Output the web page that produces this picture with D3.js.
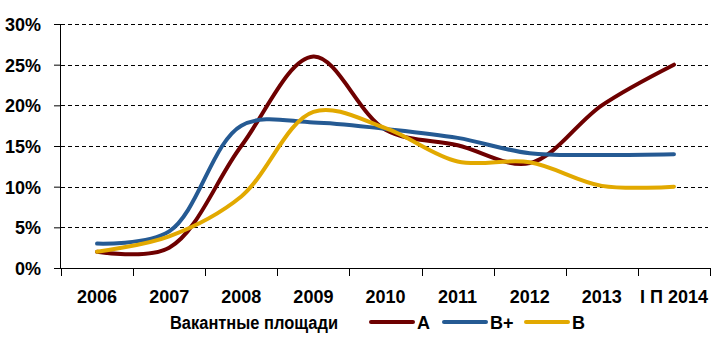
<!DOCTYPE html>
<html>
<head>
<meta charset="utf-8">
<script src="https://cdn.jsdelivr.net/npm/d3@7"></script>
<style>
  html, body { margin: 0; padding: 0; background: #fff; }
  svg text { font-family: "Liberation Sans", Arial, sans-serif; font-weight: bold; fill: #000; }
</style>
</head>
<body>
<svg id="chart" width="718" height="346"></svg>
<script>
// Vacancy rate by office class, 2006 – H1 2014
const categories = ["2006", "2007", "2008", "2009", "2010", "2011", "2012", "2013", "I П 2014"];
const classA     = [0.020, 0.025, 0.150, 0.260, 0.170, 0.151, 0.129, 0.200, 0.250];
const classBPlus = [0.030, 0.045, 0.175, 0.179, 0.171, 0.160, 0.141, 0.139, 0.140];
const classB     = [0.020, 0.039, 0.088, 0.192, 0.172, 0.131, 0.130, 0.101, 0.100];
const yTicks     = [0, 0.05, 0.10, 0.15, 0.20, 0.25, 0.30];
const legendTitle = "Вакантные площади";
const seriesNames = ["А", "В+", "В"];
const seriesColors = ["#6e0000", "#255a93", "#e2a900"];

const series = [classA, classBPlus, classB].map((values, i) => ({
  name: seriesNames[i], color: seriesColors[i], values
}));

const svg = d3.select("#chart");
const plotLeft = 61, plotRight = 710, plotTop = 24, plotBottom = 268;

const x = d3.scaleBand().domain(categories).range([plotLeft, plotRight]).padding(0);
const y = d3.scaleLinear().domain([0, 0.30]).range([plotBottom, plotTop]);
const cx = d => x(d) + x.bandwidth() / 2;

// dashed horizontal gridlines
svg.append("g")
  .selectAll("line")
  .data(yTicks.filter(v => v > 0))
  .join("line")
  .attr("x1", plotLeft).attr("x2", plotRight - 2)
  .attr("y1", d => Math.round(y(d)) + 0.5).attr("y2", d => Math.round(y(d)) + 0.5)
  .attr("stroke", "#000").attr("stroke-width", 1)
  .attr("stroke-dasharray", "4,3");

// y axis
const yAxis = svg.append("g")
  .attr("transform", `translate(${plotLeft},0)`)
  .call(d3.axisLeft(y).tickValues(yTicks).tickFormat(d3.format(".0%")).tickSize(7).tickPadding(13));
yAxis.select(".domain").attr("stroke", "#000").attr("d", `M-0.5,${plotTop}V${plotBottom}`);
yAxis.selectAll(".tick line").attr("stroke", "#000");
yAxis.selectAll("text").attr("font-size", 18).attr("font-family", null).attr("dy", "0.36em");

// x axis: labels centred in bands, ticks on band edges
const xAxis = svg.append("g")
  .attr("transform", `translate(0,${plotBottom})`)
  .call(d3.axisBottom(x).tickSize(0).tickPadding(22));
xAxis.select(".domain").attr("stroke", "#000").attr("d", `M${plotLeft},0.5H${plotRight}`);
xAxis.selectAll("text").attr("font-size", 18).attr("font-family", null);

const edges = categories.map(c => x(c)).concat([x(categories[categories.length - 1]) + x.bandwidth()]);
xAxis.append("g")
  .selectAll("line")
  .data(edges)
  .join("line")
  .attr("x1", d => Math.round(d) + 0.5).attr("x2", d => Math.round(d) + 0.5)
  .attr("y1", 0).attr("y2", 8)
  .attr("stroke", "#000");

// smoothed series lines
const line = d3.line()
  .x((d, i) => cx(categories[i]))
  .y(d => y(d))
  .curve(d3.curveCatmullRom.alpha(0.5));

svg.append("g")
  .selectAll("path")
  .data(series)
  .join("path")
  .attr("d", s => line(s.values))
  .attr("fill", "none")
  .attr("stroke", s => s.color)
  .attr("stroke-width", 4)
  .attr("stroke-linecap", "round")
  .attr("stroke-linejoin", "round");

// legend
const legend = svg.append("g").attr("font-size", 18);
legend.append("text").attr("x", 170).attr("y", 329)
  .attr("textLength", 168).attr("lengthAdjust", "spacingAndGlyphs")
  .text(legendTitle);
const legendX = [371, 444, 526];
const item = legend.selectAll("g.item")
  .data(series)
  .join("g")
  .attr("class", "item")
  .attr("transform", (d, i) => `translate(${legendX[i]},322)`);
item.append("line")
  .attr("x1", 0).attr("x2", 42).attr("y1", 0).attr("y2", 0)
  .attr("stroke", d => d.color).attr("stroke-width", 4).attr("stroke-linecap", "round");
item.append("text").attr("x", 46).attr("y", 7).text(d => d.name);
</script>
</body>
</html>
